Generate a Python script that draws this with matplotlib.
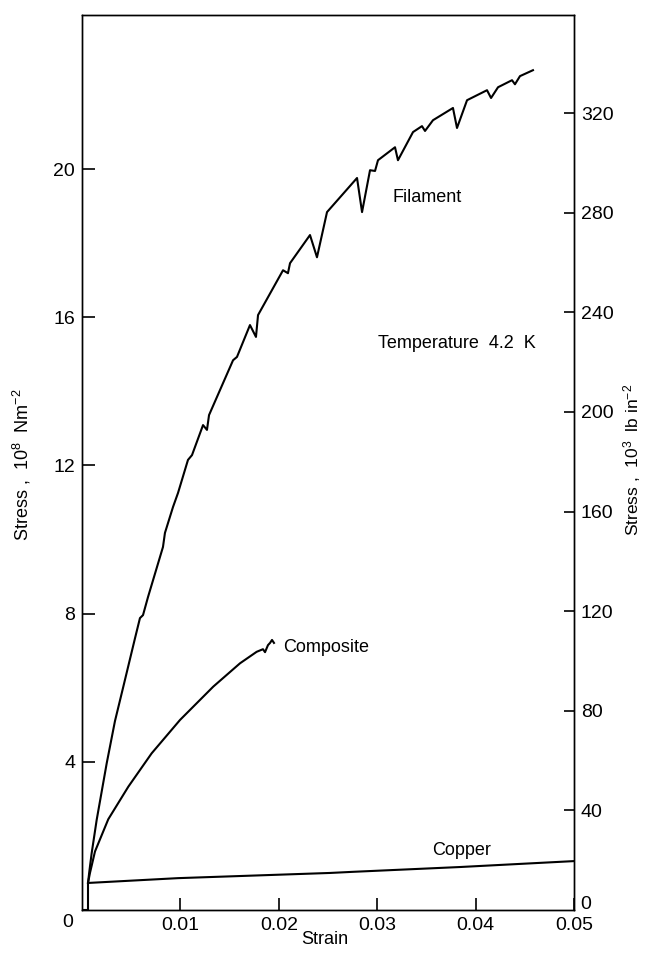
import matplotlib
matplotlib.use("Agg")
import matplotlib.pyplot as plt

plt.rcParams['font.family'] = ['Liberation Sans', 'DejaVu Sans']
plt.rcParams['mathtext.default'] = 'regular'

# Filament (strain, stress 1e8 N/m^2)
fil_strain = [0.00061, 0.00061, 0.00075, 0.00098, 0.00149, 0.00251, 0.00335, 0.00420,
              0.00539, 0.00589, 0.00620, 0.00671, 0.00823, 0.00843, 0.00925, 0.00976,
              0.01077, 0.01118, 0.01230, 0.01270, 0.01291, 0.01535, 0.01575, 0.01707,
              0.01768, 0.01789, 0.02043, 0.02093, 0.02114, 0.02317, 0.02388, 0.02490,
              0.02795, 0.02846, 0.02927, 0.02978, 0.03008, 0.03181, 0.03211, 0.03364,
              0.03455, 0.03486, 0.03567, 0.03770, 0.03811, 0.03913, 0.04116, 0.04157,
              0.04228, 0.04370, 0.04400, 0.04451, 0.04583]
fil_stress = [0.0, 0.73, 1.05, 1.53, 2.43, 3.96, 5.10, 6.03,
              7.34, 7.88, 7.96, 8.45, 9.80, 10.18, 10.88, 11.26,
              12.15, 12.28, 13.09, 12.96, 13.36, 14.84, 14.93, 15.79,
              15.47, 16.06, 17.27, 17.19, 17.46, 18.22, 17.62, 18.84,
              19.76, 18.84, 19.97, 19.95, 20.24, 20.59, 20.24, 21.00,
              21.16, 21.03, 21.32, 21.65, 21.11, 21.86, 22.13, 21.92,
              22.21, 22.40, 22.29, 22.51, 22.67]

comp_strain = [0.00061, 0.00081, 0.00132, 0.00267, 0.00471, 0.00708, 0.00996, 0.01334,
               0.01606, 0.01775, 0.01839, 0.01860, 0.01890, 0.01911, 0.01931, 0.01951]
comp_stress = [0.73, 1.00, 1.58, 2.45, 3.33, 4.23, 5.13, 6.03,
               6.66, 6.97, 7.04, 6.96, 7.15, 7.21, 7.29, 7.21]

cu_strain = [0.00061, 0.00976, 0.0252, 0.0275, 0.0384, 0.05]
cu_stress = [0.73, 0.86, 1.00, 1.03, 1.16, 1.32]

left_ticks = [4, 8, 12, 16, 20]
right_ticks = [40, 80, 120, 160, 200, 240, 280, 320]
x_ticks = [0.01, 0.02, 0.03, 0.04, 0.05]
x_ticklabels = ['0.01', '0.02', '0.03', '0.04', '0.05']

fig = plt.figure(figsize=(6.46, 9.55), dpi=100)
ax = fig.add_axes([82/646, 1-910/955, (574-82)/646, (910-15)/955])
ax.plot(fil_strain, fil_stress, color='black', lw=1.5)
ax.plot(comp_strain, comp_stress, color='black', lw=1.5)
ax.plot(cu_strain, cu_stress, color='black', lw=1.5)
ax.plot([0.0, 0.00061], [0.0, 0.0], color='black', lw=1.5)

ax.set_xlim(0, 0.05)
ax.set_ylim(0, 24.16)
ax.set_xticks(x_ticks)
ax.set_xticklabels(x_ticklabels)
ax.set_yticks(left_ticks)
ax.set_yticklabels([str(t) for t in left_ticks])
ax.tick_params(axis='both', direction='in', length=9, width=1.2, labelsize=14, pad=5)
for s in ax.spines.values():
    s.set_linewidth(1.0)

ax2 = ax.twinx()
ax2.set_ylim(0, 359.4)
ax2.set_yticks(right_ticks)
ax2.set_yticklabels([str(t) for t in right_ticks])
ax2.tick_params(axis='y', direction='in', length=7, width=1.2, labelsize=14, pad=5)
for s in ax2.spines.values():
    s.set_linewidth(1.0)

# corner zeros
fig.text(68/646, 1-922/955, '0', fontsize=14, ha='center', va='center')
fig.text(586/646, 1-904/955, '0', fontsize=14, ha='center', va='center')

fig.text(427/646, 1-197/955, 'Filament', fontsize=13, ha='center', va='center')
fig.text(457/646, 1-343/955, 'Temperature  4.2  K', fontsize=13, ha='center', va='center')
fig.text(283/646, 1-648/955, 'Composite', fontsize=13, ha='left', va='center')
fig.text(462/646, 1-850/955, 'Copper', fontsize=13, ha='center', va='center')

fig.text(325/646, 1-939/955, 'Strain', fontsize=13, ha='center', va='center')
fig.text(22/646, 1-465/955, 'Stress ,  10$^{8}$  Nm$^{-2}$', fontsize=13,
         ha='center', va='center', rotation=90)
fig.text(632/646, 1-460/955, 'Stress ,  10$^{3}$  lb in$^{-2}$', fontsize=12.5,
         ha='center', va='center', rotation=90)

fig.savefig('out.png', dpi=100)
